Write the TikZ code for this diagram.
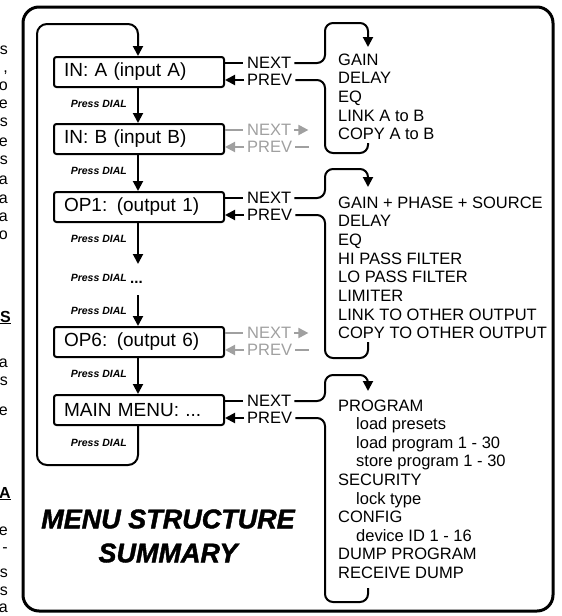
\documentclass[tikz,border=0pt]{standalone}
\usepackage{fontspec}
\setmainfont{Liberation Sans}
\newfontfamily\titlefont[BoldItalicFeatures={FakeBold=1.5}]{Liberation Sans}
\usetikzlibrary{arrows.meta}
\definecolor{lgray}{HTML}{A0A0A0}
\tikzset{
  menubox/.style={draw, line width=2pt, rounded corners=2.5pt, minimum width=170pt,
    minimum height=30pt, text width=150pt, inner xsep=10pt, inner ysep=0pt, align=left,
    font=\fontsize{19}{22}\selectfont, anchor=north west},
  conn/.style={line width=2pt},
  tipped/.style={-{Triangle[length=10pt,width=10pt]}},
  press/.style={font=\fontsize{10.5}{12}\selectfont\bfseries\itshape, anchor=east, inner sep=0pt},
  lbl/.style={font=\fontsize{16.5}{18}\selectfont, anchor=west, inner sep=0pt},
  item/.style={font=\fontsize{16.5}{18}\selectfont, anchor=base west, inner sep=0pt},
  frag/.style={font=\fontsize{16}{18}\selectfont, anchor=base east, inner sep=0pt},
  titletext/.style={font=\fontsize{27}{30}\selectfont\titlefont\bfseries\itshape, inner sep=0pt},
}
\begin{document}
\begin{tikzpicture}[x=1pt,y=-1pt]
\useasboundingbox (0,0) rectangle (562,616);
% cut-off text of the neighbouring column
\foreach \t/\yy [count=\k] in {s/54, {,}/72, o/90, e/108, s/126, e/146, s/164, a/184, a/203, a/221, o/239,
  a/367, s/385, e/415, e/535, -/552, s/577, s/595, a/612}
  \node[frag] (frag\k) at (8,\yy) {\t};
\node[frag] (fragS) at (11,322) {\underline{\textbf{S}}};
\node[frag] (fragA) at (11,498) {\underline{\textbf{A}}};
% outer frame
\draw[line width=3pt, rounded corners=16pt] (23,7) rectangle (553,611);
% boxes
\node[menubox] (ina) at (53,56) {IN: A (input A)};
\node[menubox] (inb) at (53,123) {IN: B (input B)};
\node[menubox] (op1) at (53,191) {OP1: (output 1)};
\node[menubox] (op6) at (53,326) {OP6: (output 6)};
\node[menubox] (mainm) at (53,394) {MAIN MENU: ...};
% spine
\coordinate (spine) at (138,0);
\coordinate (gapA) at (138,264);
\coordinate (gapB) at (138,295);
\coordinate (lb) at (37,465);
\coordinate (lt) at (37,24);
\draw[conn,tipped] (ina.south -| spine) -- (inb.north -| spine);
\draw[conn,tipped] (inb.south -| spine) -- (op1.north -| spine);
\draw[conn,tipped] (op1.south -| spine) -- (gapA);
\draw[conn,tipped] (gapB) -- (op6.north -| spine);
\draw[conn,tipped] (op6.south -| spine) -- (mainm.north -| spine);
\draw[conn,tipped,rounded corners=10pt] (mainm.south -| spine) |- (lb) -- (lt) -| (ina.north -| spine);
% Press DIAL
\node[press] (pd1) at (127,104) {Press DIAL};
\node[press] (pd2) at (127,171) {Press DIAL};
\node[press] (pd3) at (127,239) {Press DIAL};
\node[press] (pd4) at (127,278) {Press DIAL};
\node[font=\fontsize{15}{15}\selectfont\bfseries, anchor=base west, inner sep=0pt] (dots) at (130,283) {...};
\node[press] (pd5) at (127,311) {Press DIAL};
\node[press] (pd6) at (127,374) {Press DIAL};
\node[press] (pd7) at (127,443) {Press DIAL};
% NEXT / PREV labels
\foreach \b/\c in {ina/71, op1/206, mainm/409}{
  \node[lbl] (n\b) at (247,\c-8) {NEXT};
  \node[lbl] (p\b) at (247,\c+9) {PREV};
  \draw[conn] (n\b.west -| \b.east) -- ([xshift=-4pt]n\b.west);
  \draw[conn,tipped] ([xshift=-3pt]p\b.west) -- (p\b.west -| \b.east);
}
\foreach \b/\c in {inb/138, op6/341}{
  \node[lbl,lgray] (n\b) at (247,\c-8) {NEXT};
  \node[lbl,lgray] (p\b) at (247,\c+9) {PREV};
  \draw[conn,lgray] (n\b.west -| \b.east) -- ([xshift=-4pt]n\b.west);
  \draw[conn,lgray,tipped] ([xshift=-3pt]p\b.west) -- (p\b.west -| \b.east);
  \draw[conn,lgray,tipped] ([xshift=3pt]n\b.east) -- ([xshift=17pt]n\b.east);
  \draw[conn,lgray] ([xshift=3pt]p\b.east) -- ([xshift=17pt]p\b.east);
}
% brackets
\coordinate (tipA) at (368,47);
\coordinate (stubA) at (368,143);
\coordinate (tipB) at (368,187);
\coordinate (stubB) at (368,342);
\coordinate (tipC) at (368,391);
\coordinate (stubC) at (368,588);
\draw[conn,tipped,rounded corners=8pt] ([xshift=3pt]nina.east) -| (325,23) -| (tipA);
\draw[conn,rounded corners=8pt] ([xshift=3pt]pina.east) -| (325,153) -| (stubA);
\draw[conn,tipped,rounded corners=8pt] ([xshift=3pt]nop1.east) -| (325,169) -| (tipB);
\draw[conn,rounded corners=8pt] ([xshift=3pt]pop1.east) -| (325,358) -| (stubB);
\draw[conn,tipped,rounded corners=8pt] ([xshift=3pt]nmainm.east) -| (325,375) -| (tipC);
\draw[conn,rounded corners=8pt] ([xshift=3pt]pmainm.east) -| (325,602) -| (stubC);
% lists
\foreach \t [count=\i from 0] in {GAIN, DELAY, EQ, LINK A to B, COPY A to B}
  \node[item] (la\i) at (338,65+18.7*\i) {\t};
\foreach \t [count=\i from 0] in {GAIN + PHASE + SOURCE, DELAY, EQ, HI PASS FILTER, LO PASS FILTER, LIMITER, LINK TO OTHER OUTPUT, COPY TO OTHER OUTPUT}
  \node[item] (lb\i) at (338,208+18.7*\i) {\t};
\foreach \d/\t [count=\i from 0] in {0/PROGRAM, 18/load presets, 18/load program 1 - 30, 18/store program 1 - 30, 0/SECURITY, 18/lock type, 0/CONFIG, 18/device ID 1 - 16, 0/DUMP PROGRAM, 0/RECEIVE DUMP}
  \node[item] (lc\i) at (338+\d,411+18.6*\i) {\t};
% title
\node[titletext] (title1) at (168,519) {MENU STRUCTURE};
\node[titletext] (title2) at (168,553) {SUMMARY};
\end{tikzpicture}
\end{document}
